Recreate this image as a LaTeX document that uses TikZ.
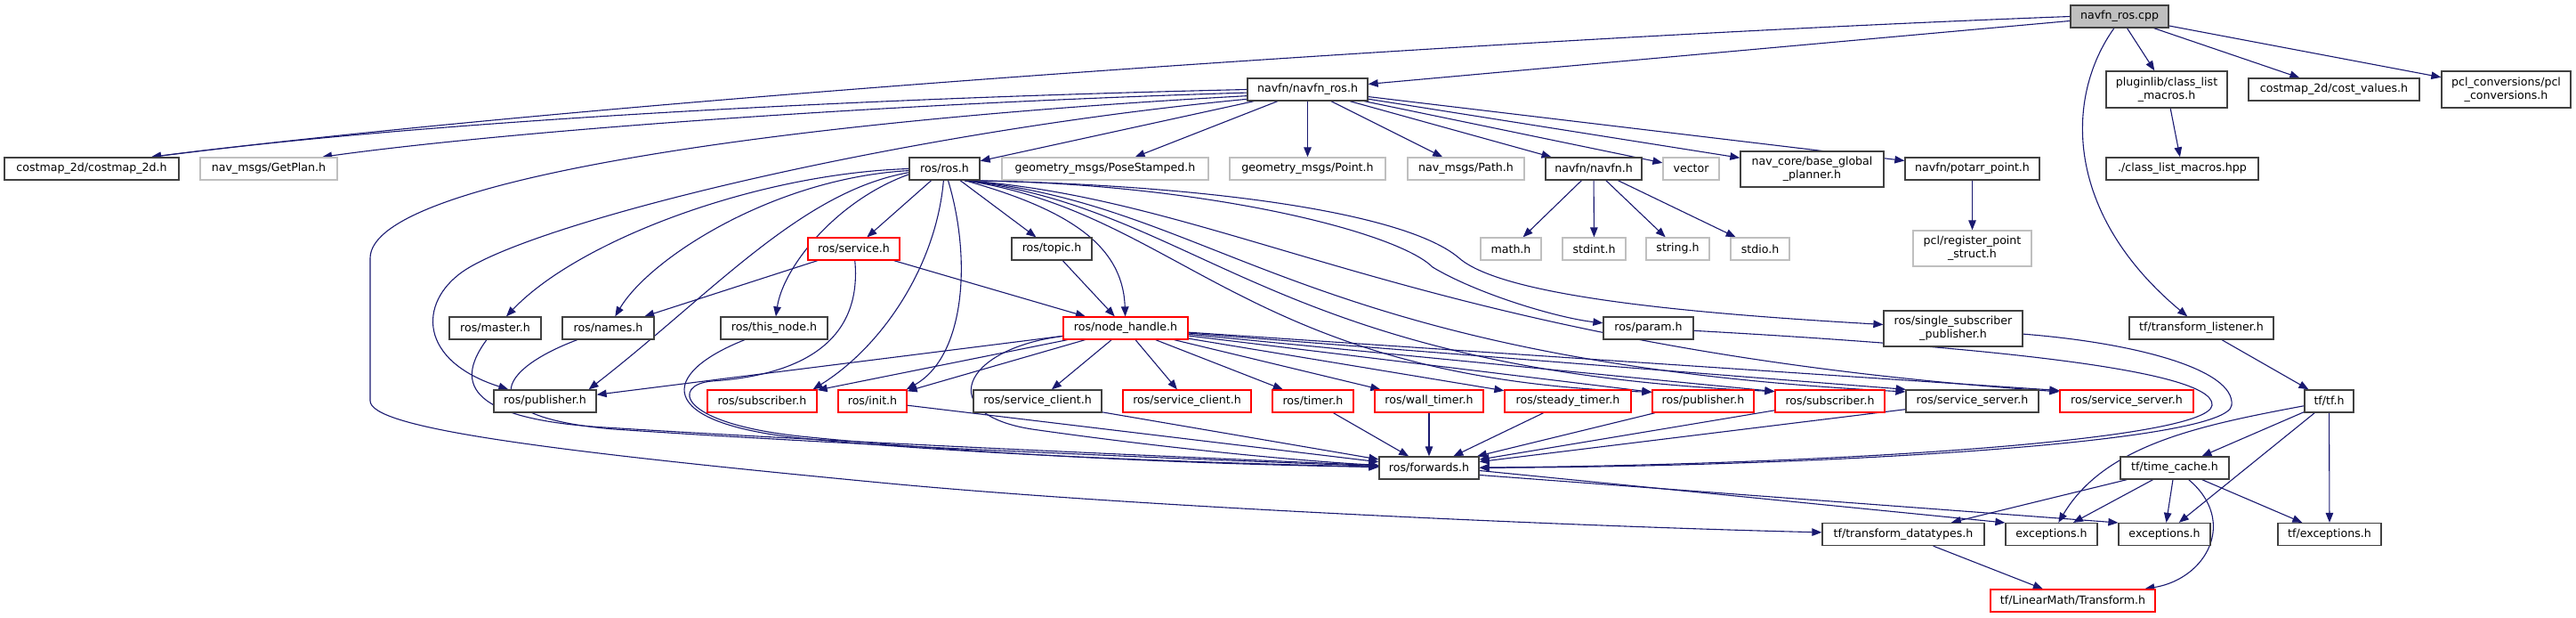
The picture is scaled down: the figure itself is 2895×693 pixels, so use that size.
\documentclass[tikz,border=0pt]{standalone}
\usepackage{fontspec}
\setmainfont{DejaVu Sans}
\usetikzlibrary{arrows.meta,calc,backgrounds}
\definecolor{edgec}{HTML}{191970}
\definecolor{grayb}{HTML}{BFBFBF}
\definecolor{darkb}{HTML}{404040}
\definecolor{redb}{HTML}{FF0000}
\begin{document}
\begin{tikzpicture}[x=1pt,y=-1pt,
 nbase/.style={draw,rectangle,inner sep=0pt,line width=1.3pt,fill=white,font=\fontsize{12.6}{15}\selectfont,align=center,minimum height=25pt},
 nbk/.style={nbase,draw=darkb},
 ngy/.style={nbase,draw=grayb},
 nrd/.style={nbase,draw=redb},
 edg/.style={draw=edgec,line width=1.1pt,-{Triangle[length=11pt,width=8.5pt]}}]
\useasboundingbox (0,0) rectangle (2895,693);
% row 0-1
\node[nbk,fill=grayb,minimum width=110pt] (cpp) at (2382,18.5) {navfn\_ros.cpp};
\node[nbk,minimum width=135pt] (navfnros) at (1469.5,100.5) {navfn/navfn\_ros.h};
\node[nbk,minimum width=136pt,minimum height=41pt] (plugin) at (2435,100.5) {pluginlib/class\_list\\\_macros.h};
\node[nbk,minimum width=192pt] (costval) at (2623,100.5) {costmap\_2d/cost\_values.h};
\node[nbk,minimum width=145pt,minimum height=41pt] (pclconv) at (2816.5,100.5) {pcl\_conversions/pcl\\\_conversions.h};
% row 2
\node[nbk,minimum width=196pt] (costmap) at (103,189.5) {costmap\_2d/costmap\_2d.h};
\node[ngy,minimum width=154pt] (getplan) at (302,189.5) {nav\_msgs/GetPlan.h};
\node[nbk,minimum width=79pt] (rosh) at (1061.5,189.5) {ros/ros.h};
\node[ngy,minimum width=232pt] (pose) at (1242,189.5) {geometry\_msgs/PoseStamped.h};
\node[ngy,minimum width=175pt] (point) at (1469.5,189.5) {geometry\_msgs/Point.h};
\node[ngy,minimum width=131pt] (path) at (1647.5,189.5) {nav\_msgs/Path.h};
\node[nbk,minimum width=108pt] (navfn) at (1791,189.5) {navfn/navfn.h};
\node[ngy,minimum width=63pt] (vector) at (1900.5,189.5) {vector};
\node[nbk,minimum width=161pt,minimum height=40pt] (bgp) at (2036.5,190) {nav\_core/base\_global\\\_planner.h};
\node[nbk,minimum width=151pt] (potarr) at (2216.5,189.5) {navfn/potarr\_point.h};
\node[nbk,minimum width=171pt] (clm) at (2452.5,189.5) {./class\_list\_macros.hpp};
% row 3
\node[nrd,minimum width=103pt] (service) at (959.5,279.5) {ros/service.h};
\node[nbk,minimum width=90pt] (topic) at (1182,279.5) {ros/topic.h};
\node[ngy,minimum width=68pt] (math) at (1698,279.5) {math.h};
\node[ngy,minimum width=71pt] (stdint) at (1791.5,279.5) {stdint.h};
\node[ngy,minimum width=71pt] (string) at (1885.5,279.5) {string.h};
\node[ngy,minimum width=66pt] (stdio) at (1978,279.5) {stdio.h};
\node[ngy,minimum width=133pt,minimum height=40pt] (rps) at (2216.5,279) {pcl/register\_point\\\_struct.h};
% row 4
\node[nbk,minimum width=103pt] (master) at (556.5,368.5) {ros/master.h};
\node[nbk,minimum width=103pt] (names) at (683.5,368.5) {ros/names.h};
\node[nbk,minimum width=120pt] (thisnode) at (870,368.5) {ros/this\_node.h};
\node[nrd,minimum width=140pt] (nh) at (1265,368.5) {ros/node\_handle.h};
\node[nbk,minimum width=101pt] (param) at (1852.5,368.5) {ros/param.h};
\node[nbk,minimum width=156pt,minimum height=40pt] (ssp) at (2195,369) {ros/single\_subscriber\\\_publisher.h};
\node[nbk,minimum width=162pt] (tl) at (2474,368.5) {tf/transform\_listener.h};
% row 5
\node[nbk,minimum width=115pt] (pub1) at (612.5,450.5) {ros/publisher.h};
\node[nrd,minimum width=123pt] (sub1) at (856.5,450.5) {ros/subscriber.h};
\node[nrd,minimum width=77pt] (init) at (980.5,450.5) {ros/init.h};
\node[nbk,minimum width=144pt] (sc1) at (1166,450.5) {ros/service\_client.h};
\node[nrd,minimum width=144pt] (sc2) at (1334,450.5) {ros/service\_client.h};
\node[nrd,minimum width=91pt] (timer) at (1475.5,450.5) {ros/timer.h};
\node[nrd,minimum width=122pt] (wt) at (1606,450.5) {ros/wall\_timer.h};
\node[nrd,minimum width=142pt] (st) at (1762,450.5) {ros/steady\_timer.h};
\node[nrd,minimum width=114pt] (pub2) at (1914,450.5) {ros/publisher.h};
\node[nrd,minimum width=123pt] (sub2) at (2056.5,450.5) {ros/subscriber.h};
\node[nbk,minimum width=149pt] (ss1) at (2216.5,450.5) {ros/service\_server.h};
\node[nrd,minimum width=150pt] (ss2) at (2390,450.5) {ros/service\_server.h};
\node[nbk,minimum width=55pt] (tftf) at (2617.5,450.5) {tf/tf.h};
% row 6-8
\node[nbk,minimum width=112pt] (fwd) at (1606,525.5) {ros/forwards.h};
\node[nbk,minimum width=122pt] (tc) at (2444,525.5) {tf/time\_cache.h};
\node[nbk,minimum width=182pt] (td) at (2139,600) {tf/transform\_datatypes.h};
\node[nbk,minimum width=103pt] (exc1) at (2305.5,600) {exceptions.h};
\node[nbk,minimum width=103pt] (exc2) at (2432.5,600) {exceptions.h};
\node[nbk,minimum width=116pt] (tfexc) at (2618,600) {tf/exceptions.h};
\node[nrd,minimum width=185pt] (lmt) at (2329.5,674.5) {tf/LinearMath/Transform.h};

\begin{scope}[on background layer]
% navfn_ros.cpp
\draw[edg] (cpp) -- (navfnros);
\draw[edg] (cpp.west) .. controls (1700,42) and (700,110) .. ($(costmap.north)+(67,0)$);
\draw[edg] (cpp) -- (plugin);
\draw[edg] (cpp) -- (costval);
\draw[edg] (cpp) -- (pclconv);
\draw[edg] (cpp.-115) .. controls (2320,110) and (2320,240) .. (tl);
\draw[edg] (plugin) -- (clm);
% navfn_ros.h
\draw[edg] (navfnros.west) .. controls (900,112) and (450,140) .. ($(costmap.north)+(67,0)$);
\draw[edg] (navfnros.183) .. controls (950,118) and (550,150) .. ($(getplan.north)+(60,0)$);
\draw[edg] (navfnros.186) .. controls (900,135) and (416,200) .. (416,290) -- (416,450) .. controls (416,480) and (600,505) .. (1000,543) .. controls (1300,571) and (1800,592) .. (td);
\draw[edg] (navfnros.189) .. controls (1000,150) and (600,250) .. (520,305) .. controls (470,340) and (470,405) .. (pub1);
\draw[edg] (navfnros) -- (rosh);
\draw[edg] (navfnros) -- (pose);
\draw[edg] (navfnros) -- (point);
\draw[edg] (navfnros) -- (path);
\draw[edg] (navfnros) -- (navfn);
\draw[edg] (navfnros) -- (vector);
\draw[edg] (navfnros) -- (bgp);
\draw[edg] (navfnros) -- (potarr);
\draw[edg] (potarr) -- (rps);
\draw[edg] (navfn) -- (math);
\draw[edg] (navfn) -- (stdint);
\draw[edg] (navfn) -- (string);
\draw[edg] (navfn) -- (stdio);
% ros.h
\draw[edg] (rosh.west) .. controls (850,195) and (650,270) .. (master);
\draw[edg] (rosh.183) .. controls (870,200) and (730,290) .. (names);
\draw[edg] (rosh.186) .. controls (900,215) and (800,330) .. (pub1.15);
\draw[edg] (rosh.189) .. controls (940,225) and (880,300) .. (thisnode);
\draw[edg] (rosh) -- (service);
\draw[edg] (rosh) .. controls (1052,300) and (990,390) .. (sub1.13);
\draw[edg] (rosh) .. controls (1092,290) and (1085,400) .. (init.19);
\draw[edg] (rosh) -- (topic);
\draw[edg] (rosh.-30) .. controls (1200,235) and (1262,275) .. (nh);
\draw[edg] (rosh.-30) .. controls (1350,205) and (1570,260) .. (1610,300) .. controls (1660,330) and (1750,357) .. (param);
\draw[edg] (rosh.-30) .. controls (1350,207) and (1580,238) .. (1640,290) .. controls (1690,333) and (1900,352) .. (ssp);
\draw[edg] (rosh.-30) .. controls (1330,240) and (1400,425) .. (pub2.170);
\draw[edg] (rosh.-30) .. controls (1350,235) and (1430,415) .. (sub2.170);
\draw[edg] (rosh.-30) .. controls (1370,230) and (1460,405) .. (ss1.172);
\draw[edg] (rosh.-30) .. controls (1390,225) and (1600,390) .. (ss2.172);
% service.h, topic.h
\draw[edg] (service) -- (names);
\draw[edg] (service) -- (nh);
\draw[edg] (service) .. controls (968,370) and (920,420) .. (800,428) .. controls (755,432) and (760,475) .. (900,490) .. controls (1150,515) and (1400,522) .. (fwd);
\draw[edg] (topic) -- (nh);
% row 4 to forwards
\draw[edg] (master) .. controls (515,425) and (515,470) .. (680,480) .. controls (1000,500) and (1400,516) .. (fwd);
\draw[edg] (names) .. controls (560,415) and (525,468) .. (690,482) .. controls (1000,503) and (1400,518) .. (fwd);
\draw[edg] (thisnode) .. controls (740,420) and (735,475) .. (900,492) .. controls (1100,512) and (1400,521) .. (fwd);
% node_handle.h
\draw[edg] (nh) -- (pub1);
\draw[edg] (nh) -- (sub1);
\draw[edg] (nh) -- (init);
\draw[edg] (nh) .. controls (1080,392) and (1050,465) .. (1160,482) .. controls (1300,502) and (1450,517) .. (fwd);
\draw[edg] (nh) -- (sc1);
\draw[edg] (nh) -- (sc2);
\draw[edg] (nh) -- (timer);
\draw[edg] (nh) -- (wt);
\draw[edg] (nh) -- (st);
\draw[edg] (nh) -- (pub2.170);
\draw[edg] (nh) -- (sub2.170);
\draw[edg] (nh) -- (ss1.170);
\draw[edg] (nh) -- (ss2.171);
% to forwards
\draw[edg] (init) -- (fwd);
\draw[edg] (sc1) -- (fwd);
\draw[edg] (timer) -- (fwd);
\draw[edg] (wt) -- (fwd);
\draw[edg] (st) -- (fwd);
\draw[edg] (pub2) -- (fwd);
\draw[edg] (sub2) -- (fwd);
\draw[edg] (ss1) -- (fwd);
\draw[edg] (param) .. controls (2150,385) and (2490,410) .. (2486,455) .. controls (2482,495) and (2050,522) .. (fwd);
\draw[edg] (ssp) .. controls (2400,385) and (2512,415) .. (2508,455) .. controls (2504,497) and (2050,524) .. (fwd);
\draw[edg] (fwd.-3) -- (exc1.166);
\draw[edg] (fwd.-8) -- (exc2.166);
% tf
\draw[edg] (tl) -- (tftf);
\draw[edg] (tftf) -- (tc);
\draw[edg] (tftf) -- (exc2);
\draw[edg] (tftf) -- (tfexc);
\draw[edg] (tftf) .. controls (2470,478) and (2365,500) .. (exc1);
\draw[edg] (tc) -- (td);
\draw[edg] (tc) -- (exc1);
\draw[edg] (tc) -- (exc2);
\draw[edg] (tc) -- (tfexc);
\draw[edg] (tc) .. controls (2515,585) and (2480,650) .. (lmt);
\draw[edg] (td) -- (lmt);
\end{scope}
\end{tikzpicture}
\end{document}
